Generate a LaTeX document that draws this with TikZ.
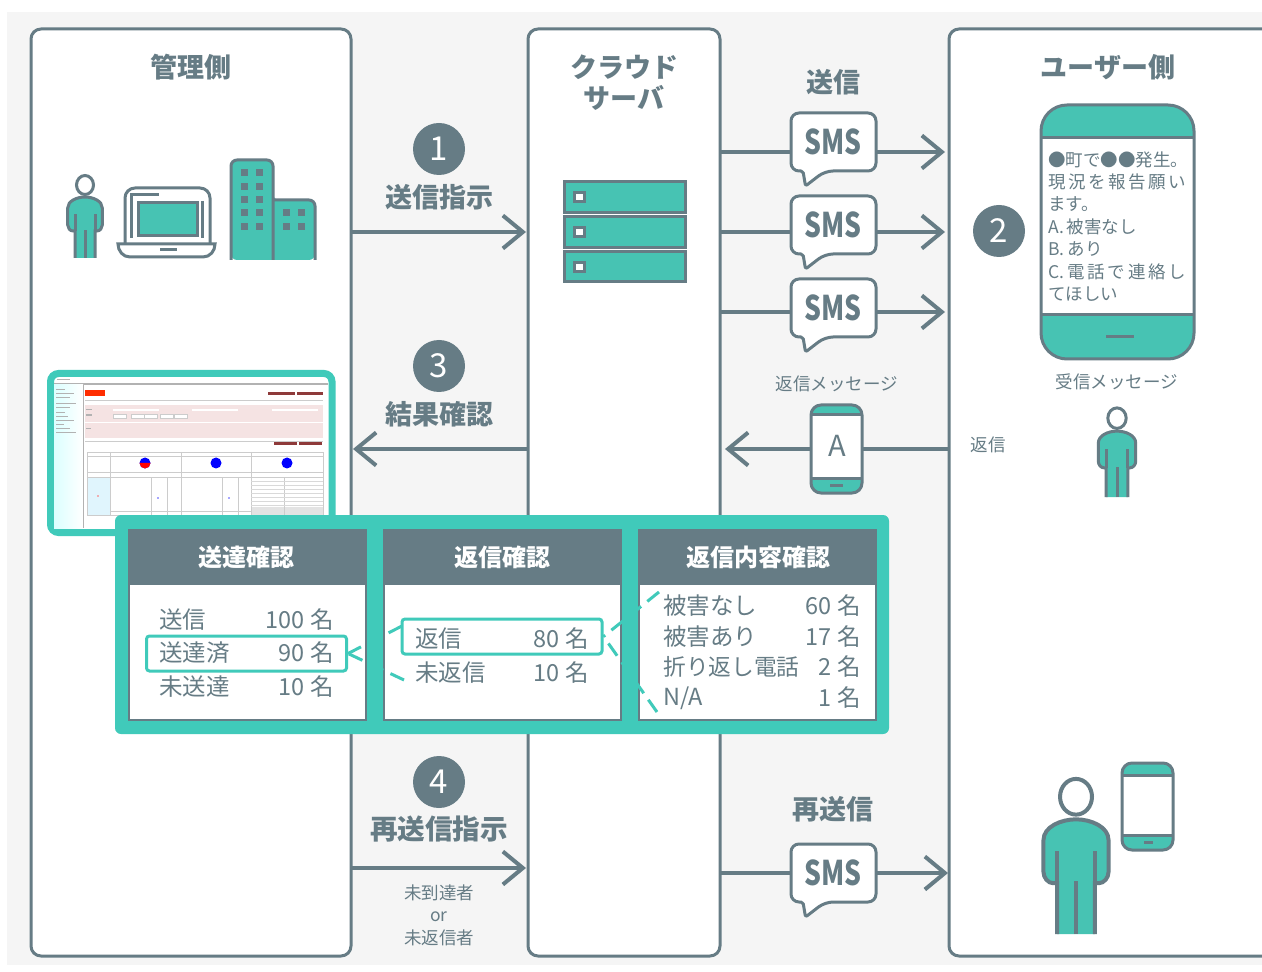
\documentclass[tikz,border=0pt]{standalone}
\usepackage{fontspec}
\usepackage{graphicx}
\setmainfont{Noto Sans CJK JP}
\usetikzlibrary{arrows.meta}
\definecolor{slate}{HTML}{667C85}
\definecolor{mint}{HTML}{47C3B3}
\definecolor{frame}{HTML}{40CABA}
\definecolor{panelbg}{HTML}{F5F5F5}
\definecolor{rust}{HTML}{8E3A3A}
\definecolor{blush}{HTML}{F5E3E3}
\tikzset{
    panel/.style={draw=slate,line width=1.5pt,rounded corners=5pt,fill=white},
    flow/.style={draw=slate,line width=2pt,-{Straight Barb[length=10pt,width=16.5pt]}},
    heading/.style={text=slate,font=\fontsize{13.5}{16}\selectfont\bfseries,inner sep=0pt},
    caption/.style={text=slate,font=\fontsize{8.75}{11}\selectfont,inner sep=0pt},
    stepnum/.style={circle,fill=slate,text=white,minimum size=26pt,inner sep=0pt,font=\fontsize{16.5}{18}\selectfont},
    cardtitle/.style={text=white,font=\fontsize{12}{14}\selectfont\bfseries,inner sep=0pt},
    cardrow/.style={text=slate,font=\fontsize{11.75}{14}\selectfont,inner sep=0pt},
    pick/.style={draw=frame,line width=1.5pt,rounded corners=1.5pt,inner sep=0pt},
    picklink/.style={draw=frame,line width=1.5pt,dash pattern=on 7.5pt off 4pt},
    person/.pic={
        \fill[mint] (-10,0)--(-10,-27)--(-12,-27) .. controls (-15,-27) and (-17.3,-30) .. (-17.3,-33)
            --(-17.3,-50) .. controls (-17.3,-57) and (-8,-61) .. (0,-61)
            .. controls (8,-61) and (17.3,-57) .. (17.3,-50)--(17.3,-33)
            .. controls (17.3,-30) and (15,-27) .. (12,-27)--(10,-27)--(10,0)--cycle;
        \draw[slate] (-10,0)--(-10,-27)--(-12,-27) .. controls (-15,-27) and (-17.3,-30) .. (-17.3,-33)
            --(-17.3,-50) .. controls (-17.3,-57) and (-8,-61) .. (0,-61)
            .. controls (8,-61) and (17.3,-57) .. (17.3,-50)--(17.3,-33)
            .. controls (17.3,-30) and (15,-27) .. (12,-27)--(10,-27)--(10,0);
        \draw[slate] (-10,-27)--(-10,-44);
        \draw[slate] (10,-27)--(10,-44);
        \draw[slate] (0,0)--(0,-28);
        \draw[slate,fill=white] (0,-73) ellipse (8.5 and 9.5);
    },
    smsbubble/.pic={
        \draw[slate,line width=1.5pt,fill=white,line join=round]
            (0,29) [rounded corners=4pt] --(0,0)--(85,0)--(85,58)--(34,58)
            [rounded corners=1pt] --(14.5,73)--(12,58)
            [rounded corners=4pt] --(0,58)--cycle;
        \node (-label) at (42,29) {\fontsize{17}{18}\selectfont\bfseries\scalebox{.78}[1]{\textcolor{slate}{SMS}}};
    },
}
% x0 y0 x1 y1 band top, band bottom, corner
\newcommand{\phonebody}[7]{
    \fill[mint,rounded corners=#7] (#1,#2) rectangle (#3,#4);
    \fill[white] (#1,#5) rectangle (#3,#6);
    \draw[slate,rounded corners=#7] (#1,#2) rectangle (#3,#4);
    \draw[slate] (#1,#5)--(#3,#5);
    \draw[slate] (#1,#6)--(#3,#6);
}
\begin{document}
\begin{tikzpicture}[x=0.5pt,y=-0.5pt]
    \useasboundingbox (0,0) rectangle (1262,972);
    \fill[white] (0,0) rectangle (1262,972);
    \fill[panelbg] (7,12) rectangle (1262,965);

    % panels
    \draw[panel] (31,29) rectangle (351,956);
    \draw[panel] (528,29) rectangle (720,956);
    \draw[panel] (1270,29)--(949,29)--(949,956)--(1270,956);
    \node (adminhead) [heading] at (191,67) {管理側};
    \node (cloudhead) [heading,align=center] at (624,82.5) {クラウド\\[-.5pt]サーバ};
    \node (userhead) [heading] at (1108,67) {ユーザー側};

    % connectors
    \coordinate (orderL) at (352,232);
    \coordinate (orderR) at (526,232);
    \coordinate (resultR) at (528,449);
    \coordinate (resultL) at (353,449);
    \coordinate (resendL) at (352,868);
    \coordinate (resendR) at (526,868);
    \coordinate (smsaL) at (721,152);
    \coordinate (smsaR) at (945,152);
    \coordinate (smsbL) at (721,232);
    \coordinate (smsbR) at (945,232);
    \coordinate (smscL) at (721,312);
    \coordinate (smscR) at (945,312);
    \coordinate (smsdL) at (721,873);
    \coordinate (smsdR) at (948,873);
    \coordinate (replyR) at (949,449);
    \coordinate (replyL) at (725,449);
    \draw[flow] (orderL)--(orderR);
    \draw[flow] (resultR)--(resultL);
    \draw[flow] (resendL)--(resendR);
    \draw[flow] (smsaL)--(smsaR);
    \draw[flow] (smsbL)--(smsbR);
    \draw[flow] (smscL)--(smscR);
    \draw[flow] (smsdL)--(smsdR);
    \draw[flow] (replyR)--(replyL);

    % step labels
    \node (stepone) [stepnum] at (439,149) {1};
    \node (steptwo) [stepnum] at (999,231) {2};
    \node (stepthree) [stepnum] at (439,366) {3};
    \node (stepfour) [stepnum] at (439,782) {4};
    \node (orderlabel) [heading] at (439,197) {送信指示};
    \node (resultlabel) [heading] at (439,414) {結果確認};
    \node (resendlabel) [heading,font=\fontsize{13.8}{16}\selectfont\bfseries] at (439,829) {再送信指示};
    \node (sendlabel) [heading] at (833,82) {送信};
    \node (againlabel) [heading] at (833,809) {再送信};
    \node (targetlabel) [caption,align=center] at (439,915) {未到達者\\[.25pt]or\\[.25pt]未返信者};
    \node (replymsg) [caption] at (837,384) {返信メッセージ};
    \node (recvmsg) [caption] at (1117,382) {受信メッセージ};
    \node (replylabel) [caption] at (988,445) {返信};

    % sms bubbles
    \pic (smsa) at (791,113) {smsbubble};
    \pic (smsb) at (791,196) {smsbubble};
    \pic (smsc) at (791,279) {smsbubble};
    \pic (smsd) at (791,844) {smsbubble};

    % admin icons
    \pic[scale=1,line width=1.5pt] at (85,258) {person};
    \draw[slate,line width=1.5pt,fill=white,rounded corners=5pt] (125,243)--(125,188)--(210,188)--(210,243);
    \fill[mint] (138,203) rectangle (197,236);
    \draw[slate,line width=1.5pt] (138,203) rectangle (197,236);
    \draw[slate,line width=1.5pt] (131,238)--(131,195)--(159,195);
    \draw[slate,line width=1.5pt] (202,201)--(202,238);
    \draw[slate,line width=1.5pt,fill=white] (118,244)--(215,244) .. controls (215,251) and (210,257) .. (203,257)
        --(130,257) .. controls (123,257) and (118,251) .. (118,244)--cycle;
    \draw[slate,line width=1.5pt] (160,250)--(177,250);
    \fill[mint,rounded corners=3pt] (231,260)--(231,160)--(273,160)--(273,200)--(315,200)--(315,260)--cycle;
    \draw[slate,line width=1.5pt,rounded corners=3pt] (231,260)--(231,160)--(273,160)--(273,260);
    \draw[slate,line width=1.5pt,rounded corners=3pt] (273,200)--(315,200)--(315,260);
    \foreach \wx in {244,259} \foreach \wy in {173,187,200,213,227}
        \fill[slate] (\wx-3.5,\wy-3.5) rectangle (\wx+3.5,\wy+3.5);
    \foreach \wx in {286,301} \foreach \wy in {213,227}
        \fill[slate] (\wx-3.5,\wy-3.5) rectangle (\wx+3.5,\wy+3.5);

    % server
    \foreach \sy/\sz in {182/213,217/248,252/282}{
        \draw[slate,line width=1.5pt,fill=mint] (564,\sy) rectangle (685,\sz);
        \draw[slate,line width=1.5pt,fill=white] (574.5,\sy+10.5) rectangle (584,\sy+20);
    }

    % user side
    \begin{scope}[line width=1.5pt]
        \phonebody{1041}{105}{1194}{359}{138}{315}{13pt}
        \draw[slate] (1106,337)--(1134,337);
        \phonebody{811}{405}{862}{493}{415}{478}{5pt}
        \draw[slate] (830,485)--(843,485);
        \phonebody{1122}{763}{1173}{850}{775}{835}{5pt}
        \draw[slate] (1144,842)--(1153,842);
    \end{scope}
    \node (replya) [text=slate,font=\fontsize{14.5}{16}\selectfont,inner sep=0pt] at (837,446) {A};
    \node (phonetext) [caption,anchor=north west,align=left] at (1048,151) {%
        \fontsize{8.75}{11.17}\selectfont
        ●町で●●発生。\\[.2pt]
        \makebox[69pt][s]{現\hfill 況\hfill を\hfill 報\hfill 告\hfill 願\hfill い}\\[.2pt]
        ます。\\[.2pt]
        A.\,被害なし\\[.2pt]
        B.\,あり\\[.2pt]
        \makebox[69pt][s]{C.\hfill 電\hfill 話\hfill で\hfill 連\hfill 絡\hfill し}\\[.2pt]
        てほしい};
    \pic[line width=1.5pt,scale=1.08] at (1117,497) {person};
    \pic[line width=2pt,scale=1.88] at (1076,934) {person};

    % screenshot
    \draw[frame,line width=3.5pt,fill=white,rounded corners=4pt] (50.5,373.5) rectangle (332,532.5);
    \fill[gray!60] (54,383.5) rectangle (328,385);
    \shade[left color=cyan!14,right color=white] (54,385) rectangle (83,528);
    \draw[gray!60,line width=.4pt] (83,385)--(83,528);
    \foreach \ly/\lw in {389/9,393/18,397/14,403/20,407/14,412/9,416/12,420/18,424/8,428/14,432/20}
        \draw[gray!60,line width=.35pt] (56,\ly)--(56+\lw,\ly);
    \draw[gray!60,line width=.35pt] (57,379)--(70,379);
    \fill[red!65!orange] (85,390) rectangle (105,396);
    \fill[rust] (268,392.5) rectangle (295,395.5);
    \fill[rust] (297,392.5) rectangle (323,395.5);
    \draw[gray!40,line width=.3pt] (85,400)--(323,400);
    \fill[blush] (85,405) rectangle (323,422);
    \fill[blush] (85,423) rectangle (323,438);
    \fill[white] (113,409.5) rectangle (159,411.5);
    \fill[white] (192,409.5) rectangle (238,411.5);
    \fill[white] (272,409.5) rectangle (318,411.5);
    \foreach \bx in {113,131,144,160,174}
        \draw[gray!40,fill=white,line width=.25pt] (\bx,414.5) rectangle (\bx+13,418);
    \fill[gray!60] (86,409) rectangle (92,410.5);
    \fill[gray!60] (86,414.5) rectangle (92,416);
    \fill[gray!60] (86,428) rectangle (91,429.5);
    \draw[gray!40,line width=.25pt] (85,441)--(323,441);
    \fill[rust] (274,442.5) rectangle (297,445.5);
    \fill[rust] (299,442.5) rectangle (322,445.5);
    \fill[cyan!12] (87,477) rectangle (110,515);
    \fill[gray!22] (251,507) rectangle (323,515);
    \draw[gray!40,line width=.3pt] (87,452) rectangle (323,515);
    \foreach \ty in {456,472,477}
        \draw[gray!40,line width=.3pt] (87,\ty)--(323,\ty);
    \foreach \tx in {110,181,251}
        \draw[gray!40,line width=.3pt] (\tx,452)--(\tx,515);
    \foreach \tx in {151,167,222,238,284}
        \draw[gray!40,line width=.25pt] (\tx,477)--(\tx,515);
    \draw[gray!40,line width=.25pt] (110,511)--(251,511);
    \foreach \ty in {481,485,489,493,497,501,505}
        \draw[gray!30,line width=.2pt] (251,\ty)--(323,\ty);
    \fill[blue] (216,463) circle (5.5);
    \fill[blue] (287,463) circle (5.5);
    \fill[blue] (145,463) circle (5.5);
    \fill[red] (139.5,463) arc (180:0:5.5)--cycle;
    \fill[blue!70] (158,498) circle (.9);
    \fill[red!60] (98,496) circle (.9);
    \fill[blue!70] (229,498) circle (.9);

    % overlay
    \fill[frame,rounded corners=3pt] (115,515) rectangle (889,734);
    \draw[slate,line width=1.25pt,fill=white] (129,530) rectangle (366,720);
    \draw[slate,line width=1.25pt,fill=white] (384,530) rectangle (621,720);
    \draw[slate,line width=1.25pt,fill=white] (639,530) rectangle (876,720);
    \fill[slate] (128,529) rectangle (367,585);
    \fill[slate] (383,529) rectangle (622,585);
    \fill[slate] (638,529) rectangle (877,585);
    \node (deliverhead) [cardtitle] at (246,557) {送達確認};
    \node (replyhead) [cardtitle] at (502,557) {返信確認};
    \node (contenthead) [cardtitle] at (758,557) {返信内容確認};

    \node (rowsent) [cardrow,anchor=west] at (159,620) {送信};
    \node (numsent) [cardrow,anchor=east] at (334,620) {100 名};
    \node (rowdone) [cardrow,anchor=west] at (159,653) {送達済};
    \node (numdone) [cardrow,anchor=east] at (334,653) {90 名};
    \node (rowfail) [cardrow,anchor=west] at (159,686.5) {未送達};
    \node (numfail) [cardrow,anchor=east] at (334,686.5) {10 名};

    \node (rowreply) [cardrow,anchor=west] at (415,639) {返信};
    \node (numreply) [cardrow,anchor=east] at (589,639) {80 名};
    \node (rowno) [cardrow,anchor=west] at (415,672.5) {未返信};
    \node (numno) [cardrow,anchor=east] at (589,672.5) {10 名};

    \node (rownone) [cardrow,anchor=west] at (663,606) {被害なし};
    \node (numnone) [cardrow,anchor=east] at (861,606) {60 名};
    \node (rowsome) [cardrow,anchor=west] at (663,636.5) {被害あり};
    \node (numsome) [cardrow,anchor=east] at (861,636.5) {17 名};
    \node (rowcall) [cardrow,anchor=west,font=\fontsize{11.35}{14}\selectfont] at (663,667) {折り返し電話};
    \node (numcall) [cardrow,anchor=east] at (861,667) {2 名};
    \node (rowna) [cardrow,anchor=west] at (663,698) {N/A};
    \node (numna) [cardrow,anchor=east] at (861,697.5) {1 名};

    \node (donebox) [pick,minimum width=100pt,minimum height=17.5pt] at (246.5,653.5) {};
    \node (replybox) [pick,minimum width=100pt,minimum height=17.5pt] at (502,636.5) {};
    \coordinate (linkupper) at (402,626);
    \coordinate (linklower) at (404,680);
    \coordinate (linktop) at (659,592);
    \coordinate (linkbot) at (657,712);
    \draw[picklink] (linkupper)--(donebox.east);
    \draw[picklink] (linklower)--(donebox.east);
    \draw[picklink] (linktop)--(replybox.east);
    \draw[picklink] (linkbot)--(replybox.east);
\end{tikzpicture}
\end{document}
